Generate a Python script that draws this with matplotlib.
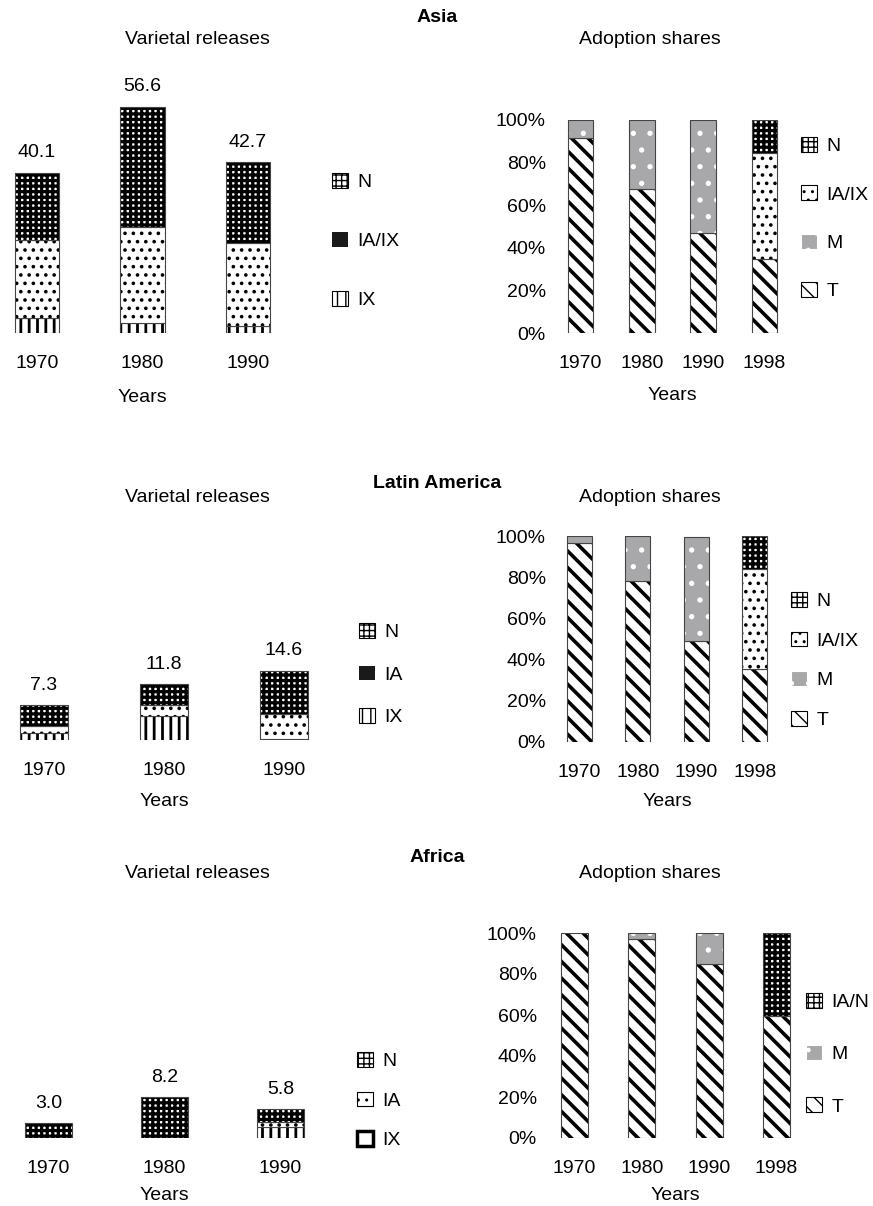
import matplotlib
matplotlib.use('Agg')
import matplotlib.pyplot as plt
from matplotlib.patches import Patch

plt.rcParams['font.family'] = ['Liberation Sans', 'DejaVu Sans']
FS = 14
plt.rcParams['font.size'] = FS

W, H = 873, 1206

# ---- data: varietal releases (stacked: IX bottom, IA(/IX) middle, N top)
rel_years = ['1970', '1980', '1990']
asia_ix = [3.8, 2.4, 1.8]
asia_iaix = [19.5, 24.0, 20.7]
asia_n = [16.8, 30.2, 20.2]
asia_tot = [40.1, 56.6, 42.7]

la_ix = [1.5, 5.1, 0.2]
la_ia = [1.5, 2.3, 5.3]
la_n = [4.3, 4.4, 9.1]
la_tot = [7.3, 11.8, 14.6]

af_ix = [0.0, 0.0, 2.2]
af_ia = [0.0, 0.0, 1.0]
af_n = [3.0, 8.2, 2.6]
af_tot = [3.0, 8.2, 5.8]

# ---- data: adoption shares (%), stacked T bottom, M, IA/IX, N top
ad_years = ['1970', '1980', '1990', '1998']
asia_t = [91.5, 67.6, 47.0, 34.7]
asia_m = [8.5, 32.4, 53.0, 0.0]
asia_ad_iaix = [0.0, 0.0, 0.0, 49.8]
asia_ad_n = [0.0, 0.0, 0.0, 15.5]

la_t = [97.0, 78.5, 49.3, 35.3]
la_m = [3.0, 21.5, 50.7, 0.0]
la_ad_iaix = [0.0, 0.0, 0.0, 49.0]
la_ad_n = [0.0, 0.0, 0.0, 15.7]

af_t = [100.0, 97.0, 85.0, 59.5]
af_m = [0.0, 3.0, 15.0, 0.0]
af_ad_ian = [0.0, 0.0, 0.0, 40.5]

# fill styles: (facecolor, hatch, hatch colour, hatch linewidth)
STY = {
    'N': ('white', '+++', 'black', 2.3),
    'DOT': ('white', '..', 'black', 1.4),
    'IX': ('white', '||', 'black', 2.0),
    'T': ('white', '\\\\', 'black', 2.6),
    'M': ('#a8a8aa', '.', 'white', 1.4),
}
OUTLINE = '#444444'

fig = plt.figure(figsize=(W / 100, H / 100), dpi=100)


def add_ax(left, bottom, width, height):
    return fig.add_axes([left / W, (H - bottom) / H, width / W, height / H])


def set_hlw(p, lw):
    if hasattr(p, 'set_hatch_linewidth'):
        p.set_hatch_linewidth(lw)


def stack(ax, vals, base, style, width):
    face, hatch, hc, hlw = STY[style]
    xs = [i for i, v in enumerate(vals) if v > 0]
    hs = [vals[i] for i in xs]
    bs = [base[i] for i in xs]
    if not xs:
        return
    with plt.rc_context({'hatch.linewidth': hlw}):
        bars = ax.bar(xs, hs, width, bottom=bs, color=face, hatch=hatch,
                      edgecolor=hc, linewidth=0)
    for p in bars:
        set_hlw(p, hlw)
    ax.bar(xs, hs, width, bottom=bs, fill=False, edgecolor=OUTLINE, linewidth=0.8)


def legend_patch(style, label):
    face, hatch, hc, hlw = STY[style]
    with plt.rc_context({'hatch.linewidth': hlw}):
        p = Patch(facecolor=face, hatch=hatch, edgecolor=hc, label=label, linewidth=0.8)
    set_hlw(p, hlw)
    return p


def releases(ax, layers, totals, ylim, width, tick_pad):
    base = [0.0] * len(rel_years)
    for vals, style in layers:
        stack(ax, vals, base, style, width)
        base = [b + v for b, v in zip(base, vals)]
    for i, t in enumerate(totals):
        ax.annotate(f'{t:.1f}', xy=(i, t), xytext=(0, 11), textcoords='offset points',
                    ha='center', va='baseline', fontsize=FS)
    ax.set_xlim(-0.35, 2.35)
    ax.set_ylim(0, ylim)
    ax.set_xticks(range(len(rel_years)))
    ax.set_xticklabels(rel_years)
    ax.set_yticks([])
    ax.tick_params(axis='x', length=0, pad=tick_pad, labelsize=FS)
    for s in ax.spines.values():
        s.set_visible(False)
    ax.patch.set_visible(False)


def adoption(ax, layers, width, tick_pad):
    base = [0.0] * len(ad_years)
    for vals, style in layers:
        stack(ax, vals, base, style, width)
        base = [b + v for b, v in zip(base, vals)]
    ax.set_xlim(-0.5, 3.5)
    ax.set_ylim(0, 100)
    ax.set_xticks(range(len(ad_years)))
    ax.set_xticklabels(ad_years)
    ax.set_yticks([0, 20, 40, 60, 80, 100])
    ax.set_yticklabels([f'{v}%' for v in [0, 20, 40, 60, 80, 100]])
    ax.tick_params(axis='x', length=0, pad=tick_pad, labelsize=FS)
    ax.tick_params(axis='y', length=0, pad=3, labelsize=FS)
    for s in ax.spines.values():
        s.set_visible(False)
    ax.patch.set_visible(False)


def years_label(ax, off_px):
    ax.annotate('Years', xy=(0.5, 0), xycoords='axes fraction', xytext=(0, -off_px * 0.72),
                textcoords='offset points', ha='center', va='center', fontsize=FS)


def legend(handles, x, y_top, spacing):
    fig.legend(handles=handles, loc='upper left', bbox_to_anchor=(x / W, 1 - y_top / H),
               frameon=False, fontsize=FS, handlelength=0.8, handleheight=0.8,
               handletextpad=0.5, labelspacing=spacing, borderpad=0, borderaxespad=0)


# ---------------- Asia
ax = add_ax(0, 333, 285, 240)
releases(ax, [(asia_ix, 'IX'), (asia_iaix, 'DOT'), (asia_n, 'N')], asia_tot, 60, 0.42, 15.5)
years_label(ax, 65)
legend([legend_patch('N', 'N'), Patch(facecolor='#1a1a1a', label='IA/IX'),
        legend_patch('IX', 'IX')], 332, 173, 2.1)

ax = add_ax(550, 333, 245, 213)
adoption(ax, [(asia_t, 'T'), (asia_m, 'M'), (asia_ad_iaix, 'DOT'), (asia_ad_n, 'N')], 0.42, 15.5)
years_label(ax, 62)
legend([legend_patch('N', 'N'), legend_patch('DOT', 'IA/IX'), legend_patch('M', 'M'),
        legend_patch('T', 'T')], 801, 137, 1.55)

# ---------------- Latin America
ax = add_ax(2, 740, 324, 76)
releases(ax, [(la_ix, 'IX'), (la_ia, 'DOT'), (la_n, 'N')], la_tot, 16, 0.4, 15.5)
years_label(ax, 62)
legend([legend_patch('N', 'N'), Patch(facecolor='#1a1a1a', label='IA'),
        legend_patch('IX', 'IX')], 359, 623, 1.25)

ax = add_ax(550, 742, 234, 205.5)
adoption(ax, [(la_t, 'T'), (la_m, 'M'), (la_ad_iaix, 'DOT'), (la_ad_n, 'N')], 0.43, 15.5)
years_label(ax, 60)
legend([legend_patch('N', 'N'), legend_patch('DOT', 'IA/IX'), legend_patch('M', 'M'),
        legend_patch('T', 'T')], 791, 592, 1.1)

# ---------------- Africa
ax = add_ax(8, 1138, 313, 50)
releases(ax, [(af_ix, 'IX'), (af_ia, 'DOT'), (af_n, 'N')], af_tot, 10, 0.41, 15.5)
years_label(ax, 58)
legend([legend_patch('N', 'N'), legend_patch('DOT', 'IA'),
        Patch(facecolor='white', edgecolor='black', linewidth=2.5, label='IX')], 357, 1052, 1.1)

ax = add_ax(541, 1138, 269, 205)
adoption(ax, [(af_t, 'T'), (af_m, 'M'), (af_ad_ian, 'N')], 0.4, 15.5)
years_label(ax, 57)
legend([legend_patch('N', 'IA/N'), legend_patch('M', 'M'), legend_patch('T', 'T')],
       806, 993, 1.75)

# ---------------- titles
for name, y in [('Asia', 17), ('Latin America', 483), ('Africa', 857)]:
    fig.text(437 / W, 1 - y / H, name, ha='center', va='center', fontsize=FS, fontweight='bold')
for y in [40, 497, 873]:
    fig.text(197 / W, 1 - y / H, 'Varietal releases', ha='center', va='center', fontsize=FS)
    fig.text(650 / W, 1 - y / H, 'Adoption shares', ha='center', va='center', fontsize=FS)

fig.savefig('out.png', dpi=100)
